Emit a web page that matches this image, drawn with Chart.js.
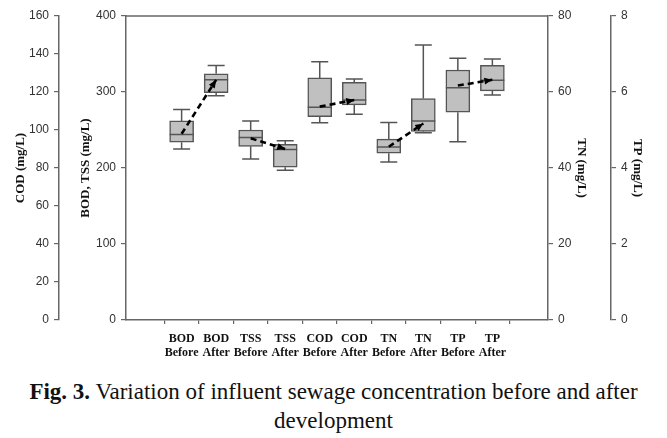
<!DOCTYPE html>
<html>
<head>
<meta charset="utf-8">
<script src="https://cdn.jsdelivr.net/npm/chart.js@4.4.1/dist/chart.umd.min.js"></script>
<style>
  body { margin: 0; background: #fff; width: 667px; height: 438px; overflow: hidden; position: relative; }
  #wrap { position: absolute; left: 0; top: 0; width: 667px; height: 362px; }
  #caption {
    position: absolute; left: 0; top: 377px; width: 667px;
    text-align: center; font-family: 'Liberation Serif', serif;
    font-size: 23px; line-height: 29px; color: #111;
  }
  #caption b { font-weight: bold; }
</style>
</head>
<body>
<div id="wrap"><canvas id="boxChart" width="667" height="362"></canvas></div>
<div id="caption"><b>Fig. 3.</b> Variation of influent sewage concentration before and after<br>development</div>

<script>
// categories (two line tick labels)
const catLabels = [
  ['BOD', 'Before'], ['BOD', 'After'],
  ['TSS', 'Before'], ['TSS', 'After'],
  ['COD', 'Before'], ['COD', 'After'],
  ['TN', 'Before'], ['TN', 'After'],
  ['TP', 'Before'], ['TP', 'After']
];
// which y axis each box is read against
const catAxis = ['yBod', 'yBod', 'yBod', 'yBod', 'yCod', 'yCod', 'yTn', 'yTn', 'yTp', 'yTp'];

// box plot statistics
const whiskerLow  = [225, 295, 212, 197, 103.8, 108.3, 41.6, 49.3, 4.69, 5.92];
const q1Values    = [234, 299, 228.5, 201, 107, 113.2, 43.9, 49.6, 5.47, 6.03];
const medianVals  = [244, 316, 240, 224.5, 112, 115.8, 45.5, 52.4, 6.11, 6.31];
const q3Values    = [262, 324, 250, 231, 127.4, 125.1, 47.6, 58.3, 6.58, 6.70];
const whiskerHigh = [277, 335, 262, 236, 135.9, 126.8, 52.0, 72.4, 6.89, 6.87];
const meanValues  = [245, 316, 239, 225, 112.3, 115.8, 45.6, 51.7, 6.17, 6.32];

// axis ranges and tick steps
const codTicks = [0, 160, 20];
const bodTicks = [0, 400, 100];
const tnTicks  = [0, 80, 20];
const tpTicks  = [0, 8, 2];

const axisColor = '#666';
const boxFill = '#c0c0c0';
const boxLine = '#555';

// one floating bar dataset per y axis (Q1..Q3 box)
const boxSets = [];
['yBod', 'yCod', 'yTn', 'yTp'].forEach(ax => {
  const pts = [];
  catAxis.forEach((a, i) => {
    if (a === ax) pts.push({ x: i + 1, y: [q1Values[i], q3Values[i]], idx: i });
  });
  boxSets.push({
    type: 'bar',
    yAxisID: ax,
    data: pts,
    backgroundColor: boxFill,
    borderColor: boxLine,
    borderWidth: 1.5,
    borderSkipped: false,
    barThickness: 24,
    grouped: false,
    order: 1
  });
});

// dashed mean line from each "before" to its "after"
const meanSets = [];
for (let i = 0; i < catLabels.length; i += 2) {
  meanSets.push({
    type: 'line',
    yAxisID: catAxis[i],
    data: [{ x: i + 1, y: meanValues[i] }, { x: i + 2, y: meanValues[i + 1] }],
    borderColor: '#000',
    borderWidth: 2.6,
    borderDash: [6, 4],
    pointRadius: 0,
    fill: false,
    order: 0
  });
}

// whiskers, caps, median lines and arrow heads
const boxExtras = {
  id: 'boxExtras',
  beforeDatasetsDraw(chart) {
    const { ctx, chartArea } = chart;
    ctx.save();
    ctx.strokeStyle = axisColor;
    ctx.lineWidth = 1.5;
    ctx.beginPath();
    ctx.moveTo(chartArea.left, chartArea.top);
    ctx.lineTo(chartArea.right, chartArea.top);
    ctx.stroke();
    ctx.restore();
  },
  afterDatasetDraw(chart, args) {
    const { ctx } = chart;
    const meta = args.meta;
    const ds = chart.data.datasets[args.index];
    const ys = chart.scales[meta.yAxisID];
    ctx.save();
    if (meta.type === 'bar') {
      ctx.strokeStyle = boxLine;
      ctx.lineWidth = 1.5;
      meta.data.forEach((bar, j) => {
        const i = ds.data[j].idx;
        const x = bar.x;
        const half = bar.width / 2;
        const cap = 8.5;
        const yHi = ys.getPixelForValue(whiskerHigh[i]);
        const yLo = ys.getPixelForValue(whiskerLow[i]);
        const yQ3 = ys.getPixelForValue(q3Values[i]);
        const yQ1 = ys.getPixelForValue(q1Values[i]);
        const yMed = ys.getPixelForValue(medianVals[i]);
        ctx.beginPath();
        ctx.moveTo(x, yQ3); ctx.lineTo(x, yHi);
        ctx.moveTo(x - cap, yHi); ctx.lineTo(x + cap, yHi);
        ctx.moveTo(x, yQ1); ctx.lineTo(x, yLo);
        ctx.moveTo(x - cap, yLo); ctx.lineTo(x + cap, yLo);
        ctx.moveTo(x - half, yMed); ctx.lineTo(x + half, yMed);
        ctx.stroke();
      });
    } else if (meta.type === 'line') {
      const p0 = meta.data[0], p1 = meta.data[1];
      const ang = Math.atan2(p1.y - p0.y, p1.x - p0.x);
      const len = 8, wid = 3.5;
      ctx.fillStyle = '#000';
      ctx.translate(p1.x, p1.y);
      ctx.rotate(ang);
      ctx.beginPath();
      ctx.moveTo(0, 0);
      ctx.lineTo(-len, -wid);
      ctx.lineTo(-len, wid);
      ctx.closePath();
      ctx.fill();
    }
    ctx.restore();
  }
};

const tickFont = { family: "'Liberation Sans', Arial, sans-serif", size: 12 };
const titleFont = { family: "'Liberation Serif', 'Times New Roman', serif", size: 13, weight: 'bold' };

function yAxis(pos, range, title, width, weight, titlePad) {
  return {
    type: 'linear',
    position: pos,
    weight: weight,
    min: range[0],
    max: range[1],
    ticks: { stepSize: range[2], color: '#333', font: tickFont, padding: 5 },
    grid: { drawOnChartArea: false, drawTicks: true, tickLength: 5, color: axisColor, lineWidth: 1.2 },
    border: { display: true, color: axisColor, width: 1.5 },
    title: { display: true, text: title, color: '#111', font: titleFont, padding: { top: titlePad, bottom: 0 } },
    afterFit: s => { s.width = width; }
  };
}

new Chart(document.getElementById('boxChart'), {
  data: { datasets: boxSets.concat(meanSets) },
  options: {
    responsive: false,
    animation: false,
    layout: { padding: { top: 16, left: 0, right: 0, bottom: 0 } },
    plugins: { legend: { display: false }, tooltip: { enabled: false } },
    scales: {
      x: {
        type: 'linear',
        position: 'bottom',
        min: 0,
        max: catLabels.length + 1,
        afterBuildTicks: s => { s.ticks = catLabels.map((_, i) => ({ value: i + 1 })); },
        ticks: {
          autoSkip: false,
          maxRotation: 0,
          color: '#111',
          padding: 8,
          font: { family: "'Liberation Serif', 'Times New Roman', serif", size: 12, weight: 'bold', lineHeight: 1.15 },
          callback: v => catLabels[v - 1] || ''
        },
        grid: { drawOnChartArea: false, drawTicks: true, tickLength: 4, color: axisColor, lineWidth: 1.2 },
        border: { display: true, color: axisColor, width: 1.5 },
        afterFit: s => { s.height = 42; }
      },
      yCod: yAxis('left', codTicks, 'COD (mg/L)', 59, 2, 13),
      yBod: yAxis('left', bodTicks, 'BOD, TSS (mg/L)', 67, 1, 19),
      yTn: yAxis('right', tnTicks, 'TN (mg/L)', 63, 1, 22),
      yTp: yAxis('right', tpTicks, 'TP (mg/L)', 56, 2, 22)
    }
  },
  plugins: [boxExtras]
});
</script>
</body>
</html>
